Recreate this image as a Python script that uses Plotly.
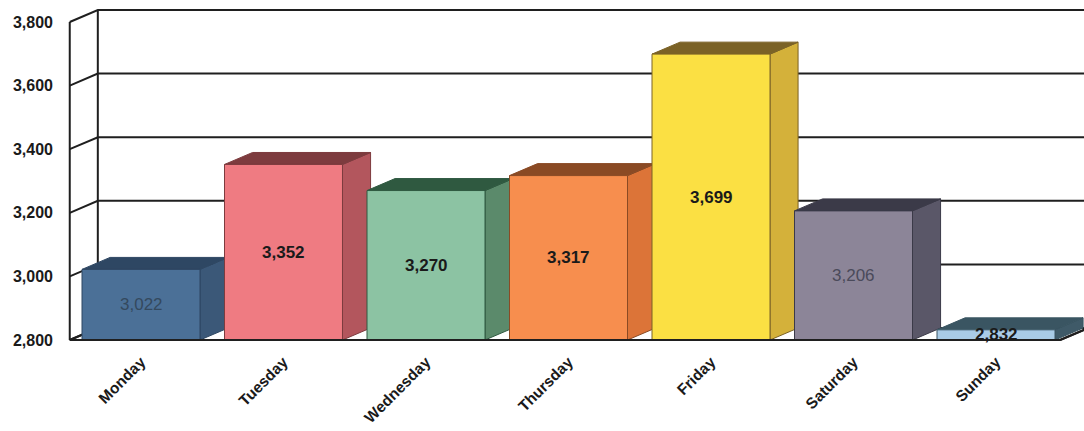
import plotly.graph_objects as go

# ---- data ----
days = ["Monday", "Tuesday", "Wednesday", "Thursday", "Friday", "Saturday", "Sunday"]
values = [3022, 3352, 3270, 3317, 3699, 3206, 2832]
y_ticks = [2800, 3000, 3200, 3400, 3600, 3800]

front_colors = ["#4b7097", "#ef7b82", "#8cc3a3", "#f78e4e", "#fbe043", "#8c8598", "#a9cbe6"]
side_colors = ["#3b5878", "#b3565d", "#5b8a6b", "#dc7438", "#d4b13a", "#5a5768", "#3f5a68"]
top_colors = ["#2e4763", "#7d3b3e", "#2f5940", "#8a4a24", "#7b6226", "#3b3a48", "#3a5562"]
label_colors = ["#34495e", "#1a1a1a", "#1a1a1a", "#1a1a1a", "#1a1a1a", "#4a4a5a", "#1a1a1a"]
label_bold = [False, True, True, True, True, False, True]

# ---- 3D geometry (in axis units) ----
BASE = 2800
HW = 0.414        # half width of bar front face
DX = 0.197        # depth offset in x (category units)
DY = 37.7         # depth offset in y (value units)
WALL_L = -0.5
WALL_R = 6.45
LINE = "#1f1f1f"
FONT = "Liberation Sans, Arial, sans-serif"

fig = go.Figure()

def poly(xs, ys, fill, lc, lw=1):
    fig.add_trace(go.Scatter(x=xs + [xs[0]], y=ys + [ys[0]], mode="lines", fill="toself",
                             fillcolor=fill, line=dict(color=lc, width=lw),
                             hoverinfo="skip", showlegend=False))

def seg(xs, ys, lw=2, color=LINE):
    fig.add_trace(go.Scatter(x=xs, y=ys, mode="lines", line=dict(color=color, width=lw),
                             hoverinfo="skip", showlegend=False))

# floor
poly([WALL_L, WALL_R, WALL_R + DX, WALL_L + DX], [BASE, BASE, BASE + DY, BASE + DY], "white", LINE, 2)

# back wall gridlines + left wall diagonals
for t in y_ticks:
    seg([WALL_L, WALL_L + DX, 7.0], [t, t + DY, t + DY])
# left wall verticals
seg([WALL_L, WALL_L], [BASE, y_ticks[-1]])
seg([WALL_L + DX, WALL_L + DX], [BASE + DY, y_ticks[-1] + DY])

# bars
for i, v in enumerate(values):
    x0, x1 = i - HW, i + HW
    poly([x1, x1 + DX, x1 + DX, x1], [BASE, BASE + DY, v + DY, v], side_colors[i], top_colors[i], 1)
    poly([x0, x1, x1 + DX, x0 + DX], [v, v, v + DY, v + DY], top_colors[i], top_colors[i], 1)
    poly([x0, x1, x1, x0], [BASE, BASE, v, v], front_colors[i], top_colors[i], 1)

# front floor edge
seg([WALL_L, WALL_R], [BASE, BASE])
seg([WALL_R, WALL_R + DX], [BASE, BASE + DY])

# data labels
for i, v in enumerate(values):
    fig.add_annotation(x=i, y=(BASE + v) / 2, text=f"{v:,}", showarrow=False,
                       font=dict(family=FONT, size=17, color=label_colors[i],
                                 weight="bold" if label_bold[i] else "normal"))

# ---- axes: px mapping ----
# x: px = 141 + 142.5*i ; plot area from px 62 to 1084
# y: px = 340 - 0.318*(v-2800) ; plot area from px 0 to 345
fig.update_xaxes(range=[(62 - 141) / 142.5, (1084 - 141) / 142.5],
                 tickvals=list(range(len(days))), ticktext=days, tickangle=-45,
                 showgrid=False, zeroline=False, showline=False, ticks="",
                 ticklabelstandoff=4, automargin=False,
                 tickfont=dict(family=FONT, size=15.5, color="#1a1a1a", weight="bold"))
fig.update_yaxes(range=[BASE + (340 - 345) / 0.318, BASE + 340 / 0.318],
                 tickvals=y_ticks, ticktext=[f"{t:,}" for t in y_ticks],
                 showgrid=False, zeroline=False, showline=False, ticks="",
                 ticklabelstandoff=8, automargin=False,
                 tickfont=dict(family=FONT, size=16, color="#1a1a1a", weight="bold"))

fig.update_layout(width=1084, height=431,
                  margin=dict(l=62, r=0, t=0, b=86, autoexpand=False),
                  plot_bgcolor="white", paper_bgcolor="white",
                  showlegend=False)

fig.write_html("out.html", config={"displayModeBar": False},
               post_script="document.body.style.margin='0';document.body.style.overflow='hidden';")
